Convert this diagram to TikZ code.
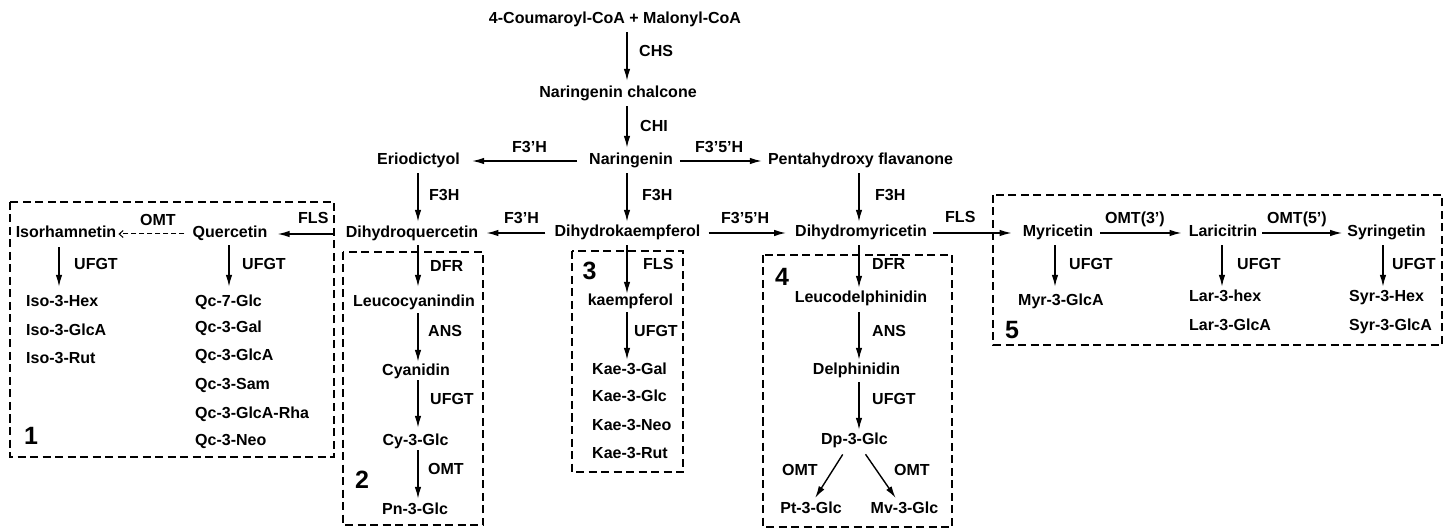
\documentclass[tikz,border=0pt]{standalone}
\usepackage{fontspec}
\setmainfont{Liberation Sans}
\usetikzlibrary{arrows.meta}
\begin{document}
\begin{tikzpicture}[x=1pt,y=-1pt,
 t/.style={inner sep=0pt, font=\fontsize{16}{19}\selectfont\bfseries, text height=11.5pt, text depth=3.5pt},
 lab/.style={t, anchor=west},
 num/.style={inner sep=0pt, font=\fontsize{25}{28}\selectfont\bfseries},
 arr/.style={line width=1.4pt, -{Latex[length=12pt,width=6.5pt]}},
 dbox/.style={line width=2.8pt, dash pattern=on 8pt off 4.5pt},
 darr/.style={line width=1pt, dash pattern=on 5pt off 3pt, -{Straight Barb[length=4pt,width=7pt]}}]
\useasboundingbox (0,0) rectangle (1444,529);
% columns
\coordinate (k1) at (627,0);
\coordinate (k2) at (418,0);
\coordinate (k3) at (859,0);
\coordinate (kiso) at (59,0);
\coordinate (kque) at (229,0);
\coordinate (kmyr) at (1055,0);
\coordinate (klar) at (1222,0);
\coordinate (ksyr) at (1383,0);
% boxes
\draw[dbox] (10,202) rectangle (334,457);
\draw[dbox] (343,252) rectangle (483,525);
\draw[dbox] (572,251) rectangle (683,472);
\draw[dbox] (763,255) rectangle (952,527);
\draw[dbox] (993,195) rectangle (1442,345);
\node[num] (n1) at (31,436) {1};
\node[num] (n2) at (362,480) {2};
\node[num] (n3) at (589.5,271) {3};
\node[num] (n4) at (782,277) {4};
\node[num] (n5) at (1012,330) {5};
% main nodes
\node[t] (title) at (615,20) {4-Coumaroyl-CoA + Malonyl-CoA};
\node[t] (chal) at (618,94) {Naringenin chalcone};
\node[t] (nar) at (631,161) {Naringenin};
\node[t] (erio) at (418.5,161) {Eriodictyol};
\node[t] (penta) at (860.5,161) {Pentahydroxy flavanone};
\node[t] (dhk) at (627.5,233) {Dihydrokaempferol};
\node[t] (dhq) at (412,234) {Dihydroquercetin};
\node[t] (dhm) at (861,233) {Dihydromyricetin};
\node[t] (myr) at (1058,233) {Myricetin};
\node[t] (lar) at (1223,233) {Laricitrin};
\node[t] (syr) at (1386.5,233) {Syringetin};
\node[t] (iso) at (66,234) {Isorhamnetin};
\node[t] (que) at (230,234) {Quercetin};
\node[t] (leucy) at (414,303) {Leucocyanindin};
\node[t] (cya) at (416,372) {Cyanidin};
\node[t] (cy3) at (415.5,441) {Cy-3-Glc};
\node[t] (pn3) at (415,510) {Pn-3-Glc};
\node[t] (kae) at (630.5,302) {kaempferol};
\node[t] (leude) at (861,299) {Leucodelphinidin};
\node[t] (del) at (856.5,371) {Delphinidin};
\node[t] (dp3) at (854.5,440) {Dp-3-Glc};
\node[t] (pt3) at (811,509) {Pt-3-Glc};
\node[t] (mv3) at (904.5,509) {Mv-3-Glc};
% lists
\node[lab] (isoa) at (26,303) {Iso-3-Hex};
\node[lab] (isob) at (26,332) {Iso-3-GlcA};
\node[lab] (isoc) at (26,360) {Iso-3-Rut};
\node[lab] (qca) at (195,303) {Qc-7-Glc};
\node[lab] (qcb) at (195,329) {Qc-3-Gal};
\node[lab] (qcc) at (195,357) {Qc-3-GlcA};
\node[lab] (qcd) at (195,386) {Qc-3-Sam};
\node[lab] (qce) at (195,414) {Qc-3-GlcA-Rha};
\node[lab] (qcf) at (195,442) {Qc-3-Neo};
\node[lab] (kaea) at (592,370) {Kae-3-Gal};
\node[lab] (kaeb) at (592,398) {Kae-3-Glc};
\node[lab] (kaec) at (592,427) {Kae-3-Neo};
\node[lab] (kaed) at (592,454) {Kae-3-Rut};
\node[lab] (myra) at (1018,302) {Myr-3-GlcA};
\node[lab] (lara) at (1189,298) {Lar-3-hex};
\node[lab] (larb) at (1189,327) {Lar-3-GlcA};
\node[lab] (syra) at (1349,298) {Syr-3-Hex};
\node[lab] (syrb) at (1349,327) {Syr-3-GlcA};
% enzyme labels
\node[lab] (lchs) at (639,53) {CHS};
\node[lab] (lchi) at (640,128) {CHI};
\node[lab] (lf1) at (512,149) {F3’H};
\node[lab] (lf2) at (695,149) {F3’5’H};
\node[lab] (lf3a) at (429,197) {F3H};
\node[lab] (lf3b) at (642,197) {F3H};
\node[lab] (lf3c) at (875,197) {F3H};
\node[lab] (lf4) at (504,220) {F3’H};
\node[lab] (lf5) at (721,220) {F3’5’H};
\node[lab] (lfls1) at (945,219) {FLS};
\node[lab] (lfls2) at (298,220) {FLS};
\node[lab] (lomt1) at (140,222) {OMT};
\node[lab] (lu1) at (74,266) {UFGT};
\node[lab] (lu2) at (242,266) {UFGT};
\node[lab] (ldfr2) at (430,268) {DFR};
\node[lab] (lans2) at (428,333) {ANS};
\node[lab] (lu3) at (430,400) {UFGT};
\node[lab] (lomt2) at (428,470) {OMT};
\node[lab] (lfls3) at (643,266) {FLS};
\node[lab] (lu4) at (634,333) {UFGT};
\node[lab] (ldfr4) at (872,266) {DFR};
\node[lab] (lans4) at (872,333) {ANS};
\node[lab] (lu5) at (872,400) {UFGT};
\node[lab] (lomt3) at (782,471) {OMT};
\node[lab] (lomt4) at (894,471) {OMT};
\node[lab] (lomt5) at (1105,220) {OMT(3’)};
\node[lab] (lomt6) at (1267,220) {OMT(5’)};
\node[lab] (lu6) at (1069,266) {UFGT};
\node[lab] (lu7) at (1237,266) {UFGT};
\node[lab] (lu8) at (1392,266) {UFGT};
% vertical arrows
\draw[arr, shorten <=4.5pt, shorten >=5.5pt] (title.south -| k1) -- (chal.north -| k1);
\draw[arr, shorten <=4.5pt, shorten >=5.5pt] (chal.south -| k1) -- (nar.north -| k1);
\draw[arr, shorten <=4.5pt, shorten >=3.5pt] (nar.south -| k1) -- (dhk.north -| k1);
\draw[arr, shorten <=4.5pt, shorten >=4.5pt] (erio.south -| k2) -- (dhq.north -| k2);
\draw[arr, shorten <=4.5pt, shorten >=3.5pt] (penta.south -| k3) -- (dhm.north -| k3);
\draw[arr, shorten <=3.5pt, shorten >=8.5pt] (dhq.south -| k2) -- (leucy.north -| k2);
\draw[arr, shorten <=2.5pt, shorten >=2.5pt] (leucy.south -| k2) -- (cya.north -| k2);
\draw[arr, shorten <=0.5pt, shorten >=5.5pt] (cya.south -| k2) -- (cy3.north -| k2);
\draw[arr, shorten <=1.5pt, shorten >=3.5pt] (cy3.south -| k2) -- (pn3.north -| k2);
\draw[arr, shorten <=4.5pt, shorten >=0.5pt] (dhk.south -| k1) -- (kae.north -| k1);
\draw[arr, shorten <=2.5pt, shorten >=2.5pt] (kae.south -| k1) -- (kaea.north -| k1);
\draw[arr, shorten <=4.5pt, shorten >=3.5pt] (dhm.south -| k3) -- (leude.north -| k3);
\draw[arr, shorten <=5.5pt, shorten >=3.5pt] (leude.south -| k3) -- (del.north -| k3);
\draw[arr, shorten <=3.5pt, shorten >=2.5pt] (del.south -| k3) -- (dp3.north -| k3);
\draw[arr, shorten <=5.5pt, shorten >=8.5pt] (iso.south -| kiso) -- (isoa.north -| kiso);
\draw[arr, shorten <=3.5pt, shorten >=8.5pt] (que.south -| kque) -- (qca.north -| kque);
\draw[arr, shorten <=4.5pt, shorten >=7.5pt] (myr.south -| kmyr) -- (myra.north -| kmyr);
\draw[arr, shorten <=4.5pt, shorten >=3.5pt] (lar.south -| klar) -- (lara.north -| klar);
\draw[arr, shorten <=4.5pt, shorten >=3.5pt] (syr.south -| ksyr) -- (syra.north -| ksyr);
% diagonal arrows
\draw[arr, shorten <=8pt, shorten >=4pt] ([xshift=-7.5pt]dp3.south) -- ([xshift=2pt]pt3.north);
\draw[arr, shorten <=8pt, shorten >=4pt] ([xshift=6.5pt]dp3.south) -- ([xshift=-6.5pt]mv3.north);
% horizontal arrows
\draw[arr, shorten <=12pt, shorten >=12pt] (nar.west) -- (erio.east);
\draw[arr, shorten <=7pt, shorten >=6pt] (nar.east) -- (penta.west);
\draw[arr, shorten <=9pt, shorten >=8pt] (dhk.west) -- (dhq.east |- dhk.west);
\draw[arr, shorten <=8pt, shorten >=9pt] (dhk.east) -- (dhm.west);
\draw[arr, shorten <=6pt, shorten >=11pt] (dhm.east) -- (myr.west);
\draw[arr, shorten <=11pt, shorten >=10pt] (dhq.west) -- (que.east |- dhq.west);
\draw[darr, shorten <=8pt, shorten >=2pt] (que.west) -- (iso.east);
\draw[arr, shorten <=7pt, shorten >=7pt] (myr.east) -- (lar.west);
\draw[arr, shorten <=5pt, shorten >=5pt] (lar.east) -- (syr.west);
\end{tikzpicture}
\end{document}
